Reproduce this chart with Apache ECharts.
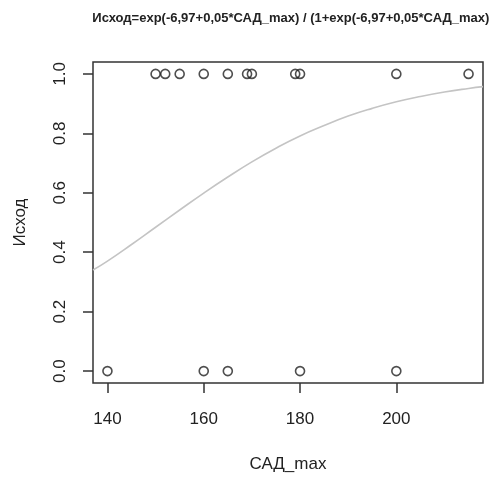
<!DOCTYPE html>
<html>
<head>
<meta charset="utf-8">
<script src="https://cdn.jsdelivr.net/npm/echarts@6/dist/echarts.min.js"></script>
<style>
  html, body { margin: 0; padding: 0; background: #fff; }
  #chart { width: 489px; height: 478px; }
</style>
</head>
<body>
<div id="chart"></div>
<script>
// observed outcomes
var sadMax = [150, 152, 155, 160, 165, 169, 170, 179, 180, 200, 215, 140, 160, 165, 180, 200];
var outcome = [1, 1, 1, 1, 1, 1, 1, 1, 1, 1, 1, 0, 0, 0, 0, 0];

// fitted curve
var curveX = [137, 140, 145, 150, 155, 160, 165, 170, 175, 180, 185, 190, 195, 200, 205, 210, 215, 218];
var curveY = [0.34, 0.37, 0.426, 0.484, 0.542, 0.599, 0.653, 0.704, 0.75, 0.791, 0.826, 0.858, 0.884, 0.906, 0.924, 0.939, 0.951, 0.957];

var xTicks = [140, 160, 180, 200];
var yTicks = [0, 0.2, 0.4, 0.6, 0.8, 1.0];

var font = '"Liberation Sans", Arial, sans-serif';

var points = sadMax.map(function(x, i) { return [x, outcome[i]]; });
var curve = curveX.map(function(x, i) { return [x, curveY[i]]; });

var myChart = echarts.init(document.getElementById('chart'));
myChart.setOption({
  animation: false,
  title: {
    text: 'Исход=exp(-6,97+0,05*САД_max) / (1+exp(-6,97+0,05*САД_max))',
    left: 288,
    top: 7,
    textAlign: 'center',
    textStyle: { fontFamily: font, fontSize: 13, fontWeight: 'bold', color: '#222' }
  },
  grid: {
    left: 93, right: 6, top: 62, bottom: 91,
    show: true, borderColor: '#333', borderWidth: 1.5, backgroundColor: '#fff'
  },
  xAxis: {
    type: 'value',
    min: 137,
    max: 218,
    name: 'САД_max',
    nameLocation: 'middle',
    nameGap: 73,
    nameTextStyle: { fontFamily: font, fontSize: 17, color: '#222' },
    axisLine: { show: false, onZero: false },
    splitLine: { show: false },
    axisTick: {
      show: true, inside: false, length: 10, customValues: xTicks,
      lineStyle: { color: '#333', width: 1.5 }
    },
    axisLabel: {
      customValues: xTicks, margin: 28,
      fontFamily: font, fontSize: 17, color: '#222'
    }
  },
  yAxis: {
    type: 'value',
    min: -0.04,
    max: 1.04,
    name: 'Исход',
    nameLocation: 'middle',
    nameGap: 64,
    nameTextStyle: { fontFamily: font, fontSize: 17, color: '#222' },
    axisLine: { show: false, onZero: false },
    splitLine: { show: false },
    axisTick: {
      show: true, inside: false, length: 10, customValues: yTicks,
      lineStyle: { color: '#333', width: 1.5 }
    },
    axisLabel: {
      customValues: yTicks, margin: 24, rotate: 90,
      fontFamily: font, fontSize: 17, color: '#222',
      formatter: function(v) { return v.toFixed(1); }
    }
  },
  series: [{
    type: 'line',
    data: curve,
    smooth: true,
    showSymbol: false,
    lineStyle: { color: '#c4c4c4', width: 1.6 },
    z: 2
  }, {
    type: 'scatter',
    data: points,
    symbol: 'circle',
    symbolSize: 9,
    itemStyle: { color: 'rgba(0,0,0,0)', borderColor: '#222', borderWidth: 1.6 },
    z: 3
  }]
});
</script>
</body>
</html>
